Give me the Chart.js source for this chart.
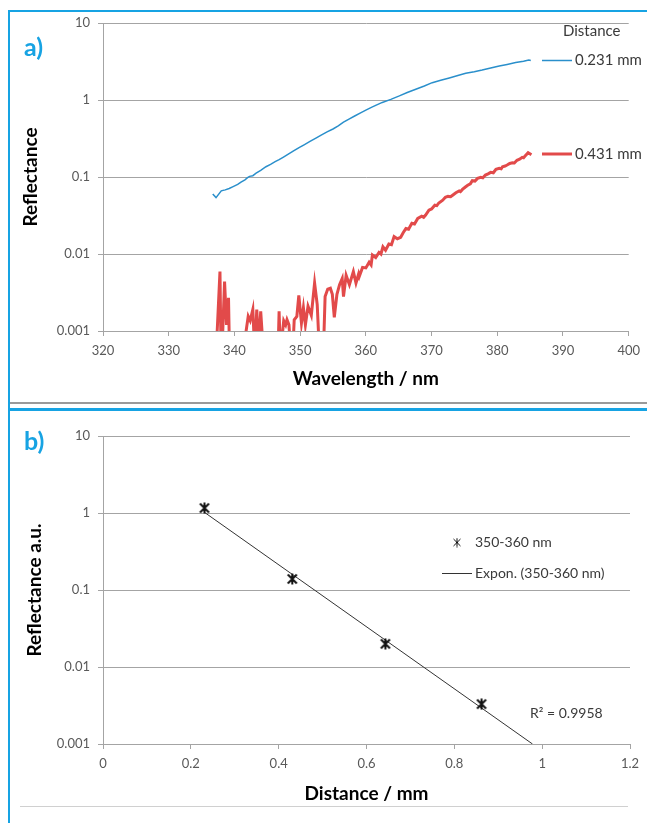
<!DOCTYPE html>
<html>
<head>
<meta charset="utf-8">
<script src="https://cdn.jsdelivr.net/npm/chart.js@4.4.1/dist/chart.umd.min.js"></script>
<style>
body { margin: 0; background: #fff; width: 647px; height: 823px; position: relative; overflow: hidden; font-family: Lato, sans-serif; }
canvas { position: absolute; left: 0; }
#chartA { top: 0; }
#chartB { top: 410px; }
.rule { position: absolute; }
.tag { position: absolute; color: #17a3e3; font: bold 25px Lato, sans-serif; line-height: 30px; }
</style>
</head>
<body>
<div class="rule" style="left:8px; top:10px; width:639px; height:2px; background:#17a3e3"></div>
<div class="rule" style="left:8px; top:10px; width:2px; height:813px; background:#17a3e3"></div>
<div class="rule" style="left:10px; top:402px; width:637px; height:2px; background:#9a9a9a"></div>
<div class="rule" style="left:8px; top:408px; width:639px; height:3px; background:#17a3e3"></div>
<div class="rule" style="left:20px; top:806px; width:608px; height:1px; background:#d0d0d0"></div>
<canvas id="chartA" width="647" height="402"></canvas>
<canvas id="chartB" width="647" height="413"></canvas>
<div class="tag" style="left:24px; top:31px">a)</div>
<div class="tag" style="left:24px; top:425px">b)</div>
<script>
// ---- panel a) reflectance spectra ----
const wavelengthBlue = [336.7, 337.2, 338.0, 338.6, 339.2, 339.8, 340.5, 341.0, 341.6, 342.0, 342.3, 342.8, 343.3, 344.0,
  344.8, 345.5, 346.2, 346.8, 347.4, 348.2, 349.0, 349.9, 350.6, 351.5, 352.4, 353.2, 354.1, 355.0, 355.8, 356.6,
  357.5, 358.3, 359.2, 360.0, 361.0, 362.0, 362.5, 363.8, 365.1, 366.3, 367.6, 368.9, 370.1, 371.4, 372.7, 374.0,
  375.2, 376.5, 377.7, 379.0, 380.3, 381.5, 382.8, 384.0, 384.8, 385.1];
const reflBlue = [0.060, 0.054, 0.066, 0.068, 0.071, 0.075, 0.080, 0.086, 0.092, 0.098, 0.102, 0.104, 0.112, 0.122,
  0.136, 0.146, 0.158, 0.168, 0.180, 0.198, 0.218, 0.243, 0.262, 0.290, 0.320, 0.350, 0.385, 0.420, 0.460, 0.515,
  0.570, 0.620, 0.680, 0.740, 0.815, 0.890, 0.930, 1.02, 1.13, 1.25, 1.38, 1.52, 1.68, 1.80, 1.93, 2.08,
  2.22, 2.33, 2.45, 2.61, 2.77, 2.90, 3.06, 3.18, 3.31, 3.25];

const wavelengthRed = [337.0, 337.8, 338.0, 338.5, 338.8, 339.1, 339.3, 341.6, 341.7, 342.1, 342.4, 342.8, 343.1, 343.4,
  343.7, 344.0, 344.5, 346.6, 346.8, 347.0, 347.5, 347.8, 348.0, 348.3, 348.6, 348.9, 349.1, 349.5, 349.8, 350.2,
  350.5, 350.8, 351.2, 351.7, 352.2, 352.6, 353.0, 353.5, 353.8, 354.2, 354.6, 354.9, 355.2, 355.6, 356.0, 356.4,
  356.6, 357.0, 357.5, 358.1, 358.5, 358.9, 359.0, 359.5, 360.0, 360.5, 360.8, 361.0, 361.5, 362.0, 362.3, 362.6,
  363.0, 363.5, 363.9, 364.3, 364.8, 365.3, 365.7, 366.1, 366.5, 367.0, 367.4, 367.9, 368.5, 368.8, 369.1, 369.6,
  370.0, 370.5, 370.8, 371.1, 371.7, 372.1, 372.5, 372.9, 373.2, 373.7, 374.2, 374.4, 374.7, 375.1, 375.5, 375.9,
  376.2, 376.6, 377.0, 377.5, 377.8, 378.2, 378.6, 379.0, 379.4, 379.8, 380.3, 380.6, 380.8, 381.2, 381.5, 381.9,
  382.3, 382.6, 383.0, 383.4, 383.8, 384.0, 384.3, 384.7, 385.2];
const reflRed = [0.0002, 0.0059, 0.0003, 0.0044, 0.0012, 0.0027, 0.0003, 0.0004, 0.0009, 0.00155, 0.00136, 0.0019, 0.0005, 0.0019,
  0.0006, 0.0018, 0.0004, 0.0004, 0.0018, 0.0005, 0.00136, 0.0012, 0.0014, 0.0012, 0.0005, 0.0006, 0.0014, 0.00155, 0.0029, 0.00127,
  0.0020, 0.0012, 0.0021, 0.0016, 0.0042, 0.0022, 0.0004, 0.0004, 0.0028, 0.0035, 0.0036, 0.0030, 0.0015, 0.0030, 0.0040, 0.0048,
  0.0028, 0.0053, 0.0040, 0.0059, 0.0042, 0.0055, 0.0051, 0.0067, 0.0066, 0.0078, 0.0072, 0.0097, 0.0090, 0.0105, 0.0100, 0.0124,
  0.0112, 0.0135, 0.0132, 0.0168, 0.0158, 0.0165, 0.0190, 0.0214, 0.0210, 0.025, 0.0245, 0.029, 0.031, 0.0300, 0.032, 0.037,
  0.0385, 0.043, 0.0425, 0.046, 0.050, 0.0545, 0.056, 0.0555, 0.058, 0.0625, 0.066, 0.0645, 0.069, 0.0735, 0.078, 0.0815,
  0.0896, 0.0885, 0.096, 0.099, 0.0975, 0.106, 0.110, 0.115, 0.1135, 0.126, 0.130, 0.128, 0.136, 0.139, 0.143, 0.150,
  0.153, 0.152, 0.165, 0.170, 0.180, 0.178, 0.190, 0.207, 0.195];

const seriesNames = ['0.231 mm', '0.431 mm'];
const wavelengthTicks = [320, 330, 340, 350, 360, 370, 380, 390, 400];
const decadeTicks = [0.001, 0.01, 0.1, 1, 10];

// ---- panel b) reflectance vs distance ----
const distances = [0.231, 0.431, 0.643, 0.862];
const reflBand = [1.16, 0.139, 0.020, 0.0033];
const trendDistance = [0.231, 0.978];
const trendRefl = [1.02, 0.001];
const distanceTicks = [0, 0.2, 0.4, 0.6, 0.8, 1, 1.2];
const rSquared = 'R\u00b2 = 0.9958';

const BLUE = '#2a8fcb';
const RED = '#e24a4a';
const GRID = '#a4a4a4';
const TICK_TEXT = '#595959';
const LEGEND_TEXT = '#3a3a3a';

Chart.defaults.font.family = 'Lato, sans-serif';
Chart.defaults.animation = false;

function pairs(xs, ys) {
    return xs.map((x, i) => ({ x: x, y: ys[i] }));
}

// Excel style "star" marker: an X crossed by a vertical bar
function starMarker(size, width) {
    const c = document.createElement('canvas');
    c.width = size; c.height = size;
    const g = c.getContext('2d');
    g.strokeStyle = '#111';
    g.lineWidth = width;
    const m = 1.5, e = size - 1.5, mid = size / 2;
    g.beginPath();
    g.moveTo(m, m); g.lineTo(e, e);
    g.moveTo(e, m); g.lineTo(m, e);
    g.moveTo(mid, 0.5); g.lineTo(mid, size - 0.5);
    g.stroke();
    return c;
}

function logAxis(title, titlePad) {
    return {
        type: 'logarithmic',
        min: 0.001,
        max: 10,
        afterBuildTicks: s => { s.ticks = decadeTicks.map(v => ({ value: v })); },
        afterFit: s => { s.width = 103; },
        ticks: { color: TICK_TEXT, font: { size: 13 }, padding: 8, callback: v => String(v) },
        grid: { color: GRID, tickLength: 5, lineWidth: 1 },
        border: { color: GRID },
        title: { display: true, text: title, color: '#000', font: { size: 19, weight: 'bold' }, padding: { top: titlePad, bottom: 0 } }
    };
}

function linearAxis(min, max, tickValues, title, height, titlePad) {
    return {
        type: 'linear',
        min: min,
        max: max,
        afterBuildTicks: s => { s.ticks = tickValues.map(v => ({ value: v })); },
        afterFit: s => { s.height = height; },
        ticks: { color: TICK_TEXT, font: { size: 13 }, padding: 7, callback: v => String(+v.toFixed(1)) },
        grid: { drawOnChartArea: false, drawTicks: true, tickLength: 5, color: GRID },
        border: { color: GRID },
        title: { display: true, text: title, color: '#000', font: { size: 19, weight: 'bold' }, padding: { top: 0, bottom: titlePad } }
    };
}

// legend of panel a): title and two entries beside the curve ends
const legendA = {
    id: 'legendA',
    afterDraw(chart) {
        const ctx = chart.ctx;
        ctx.save();
        ctx.font = '15px Lato, sans-serif';
        ctx.fillStyle = LEGEND_TEXT;
        ctx.textBaseline = 'middle';
        ctx.fillText('Distance', 563, 31);
        const rows = [{ y: 60.5, color: BLUE, w: 1.5 }, { y: 154, color: RED, w: 3 }];
        rows.forEach((r, i) => {
            ctx.strokeStyle = r.color;
            ctx.lineWidth = r.w;
            ctx.beginPath();
            ctx.moveTo(542, r.y); ctx.lineTo(572, r.y);
            ctx.stroke();
            ctx.fillStyle = LEGEND_TEXT;
            ctx.fillText(seriesNames[i], 575, r.y);
        });
        ctx.restore();
    }
};

const legendB = {
    id: 'legendB',
    afterDraw(chart) {
        const ctx = chart.ctx;
        ctx.save();
        ctx.font = '14px Lato, sans-serif';
        ctx.fillStyle = LEGEND_TEXT;
        ctx.textBaseline = 'middle';
        ctx.drawImage(starMarker(10, 1), 452, 127.5);
        ctx.fillText('350-360 nm', 475, 132.5);
        ctx.strokeStyle = '#333';
        ctx.lineWidth = 1;
        ctx.beginPath();
        ctx.moveTo(442, 163.5); ctx.lineTo(472, 163.5);
        ctx.stroke();
        ctx.fillText('Expon. (350-360 nm)', 475, 163.5);
        ctx.fillText(rSquared, 530, 303);
        ctx.restore();
    }
};

new Chart(document.getElementById('chartA'), {
    type: 'scatter',
    data: {
        datasets: [
            { label: seriesNames[0], data: pairs(wavelengthBlue, reflBlue), showLine: true, borderColor: BLUE, borderWidth: 1.5, pointRadius: 0, clip: 0 },
            { label: seriesNames[1], data: pairs(wavelengthRed, reflRed), showLine: true, borderColor: RED, borderWidth: 3, pointRadius: 0, clip: 0 }
        ]
    },
    options: {
        responsive: false,
        layout: { padding: { left: 0, top: 23, right: 16, bottom: 0 } },
        plugins: { legend: { display: false }, tooltip: { enabled: false } },
        scales: {
            x: linearAxis(320, 400, wavelengthTicks, 'Wavelength / nm', 71, 12),
            y: logAxis('Reflectance', 19)
        }
    },
    plugins: [legendA]
});

new Chart(document.getElementById('chartB'), {
    type: 'scatter',
    data: {
        datasets: [
            { label: '350-360 nm', data: pairs(distances, reflBand), pointStyle: starMarker(12, 2), pointRadius: 6, showLine: false },
            { label: 'Expon. (350-360 nm)', data: pairs(trendDistance, trendRefl), showLine: true, borderColor: '#333', borderWidth: 1, pointRadius: 0, clip: 0 }
        ]
    },
    options: {
        responsive: false,
        layout: { padding: { left: 0, top: 26, right: 17, bottom: 0 } },
        plugins: { legend: { display: false }, tooltip: { enabled: false } },
        scales: {
            x: linearAxis(0, 1.2, distanceTicks, 'Distance / mm', 79, 18),
            y: logAxis('Reflectance a.u.', 23)
        }
    },
    plugins: [legendB]
});
</script>
</body>
</html>
